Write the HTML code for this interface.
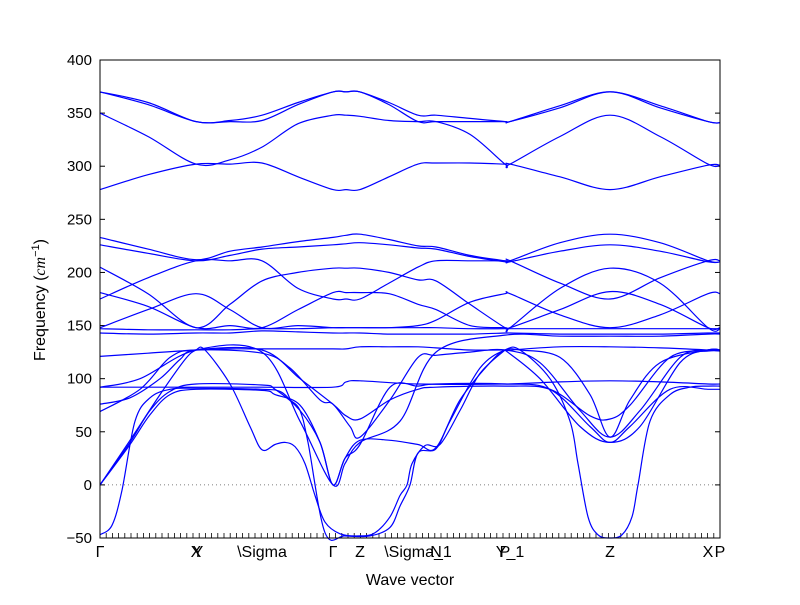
<!DOCTYPE html>
<html><head><meta charset="utf-8">
<style>
html,body{margin:0;padding:0;background:#fff;}
svg text{font-family:"Liberation Sans","DejaVu Sans",sans-serif;}
</style></head>
<body>
<svg id="chart" width="800" height="600" viewBox="0 0 800 600" xmlns="http://www.w3.org/2000/svg">
<rect x="0" y="0" width="800" height="600" fill="#fff"/>
<g id="ticks"></g>
<g id="bands"></g>
<rect x="100" y="60" width="620" height="478" fill="none" stroke="#000" stroke-width="1"/>
<text x="410" y="585" font-size="16" text-anchor="middle">Wave vector</text>
<text transform="translate(45,300) rotate(-90)" font-size="16" text-anchor="middle">Frequency (<tspan font-style="italic" font-family="Liberation Serif">cm</tspan><tspan font-size="11" dy="-6">−1</tspan><tspan dy="6">)</tspan></text>
</svg>
<script>
const symLabels = ["Γ","X","Y","\\Sigma","Γ","Z","\\Sigma_1","N","P","Y_1","Z","X","P"];
const symK = [0,96,98,162,233,260,318,336,405,410,510,608,620];
const yTicks = [-50,0,50,100,150,200,250,300,350,400];
const kGrid = [0,48,96,98,130,162,198,233,246,260,289,318,336,370,405,410,460,510,560,608,620];
const gridBands = [
 [370,360,342,342,343,348,360,370,370,370,360,348,348,345,342,342,357,370,357,342,341],
 [370,358,342,342,342,343,358,370,370,370,358,342,342,342,342,342,355,370,355,342,341],
 [350,328,302,302,306,318,340,348,348,347,343,342,342,330,302,302,328,348,328,302,301],
 [278,292,302,302,302,303,290,278,278,278,290,302,303,303,302,302,290,278,290,301,301],
 [233,222,212,212,220,224,229,233,235,236,231,225,224,216,211,211,228,236,228,211,210],
 [226,218,211,211,216,222,224,226,227,228,226,223,222,215,210,210,220,226,220,210,210],
 [205,180,148,148,170,192,200,204,204,204,200,193,192,170,148,148,185,204,190,148,147],
 [175,195,211,211,211,211,185,175,175,175,190,205,211,211,211,211,190,175,195,211,211],
 [181,168,148,148,150,148,165,181,181,181,180,170,165,150,148,148,165,182,170,148,148],
 [148,165,180,180,165,148,150,148,148,148,148,150,155,172,180,180,160,148,160,180,180],
 [147,146,146,146,146,147,147,148,148,148,148,148,148,147,147,147,147,147,147,147,147],
 [143,142,143,143,143,145,144,143,143,143,142,142,142,142,143,143,142,142,142,143,143],
 [121,124,127,127,128,128,128,128,128,130,130,130,129,127,127,127,130,130,129,127,126]
];
const lowA1 = [[0,0],[30,42],[60,85],[85,118],[96,127],[105,127],[130,95],[150,55],[162,33],[175,38],[185,40],[195,36],[205,20],[215,-10],[225,-35],[240,-46],[260,-48],[275,-45],[290,-30],[300,-10],[307,0],[312,20],[325,37],[340,38],[360,70],[380,105],[405,127]];
const lowA4 = [[0,-47],[12,-38],[22,-5],[25,20],[35,60],[50,82],[70,90],[96,91],[162,90],[180,88],[190,80],[200,70],[208,40],[212,0],[216,-30],[225,-45],[245,-48],[270,-48],[290,-40],[300,-20],[310,0],[318,30],[336,34],[350,60],[380,110],[405,127],[420,127],[450,100],[470,60],[478,20],[482,0],[488,-30],[498,-47],[510,-50],[522,-47],[532,-30],[538,0],[542,20],[550,60],[570,85],[590,92],[608,93],[620,93]];
const lowA2 = [[0,0],[30,40],[50,70],[70,88],[96,95],[162,94],[175,90],[200,70],[220,40],[233,0],[245,25],[260,42],[290,42],[318,38],[336,35],[360,80],[390,115],[405,127],[420,127],[460,120],[490,85],[510,45],[530,80],[560,115],[608,127],[620,127]];
const lowA3 = [[0,0],[30,38],[50,66],[70,85],[96,90],[162,89],[175,85],[200,75],[220,40],[233,0],[245,25],[260,38],[290,92],[318,93],[336,95],[405,95],[450,90],[490,55],[510,40],[530,55],[570,90],[608,90],[620,90]];
const lowO1 = [[0,92],[96,92],[162,92],[233,92],[246,97],[260,98],[318,95],[405,95],[460,97],[510,98],[560,97],[608,95],[620,95]];
const lowO2 = [[0,76],[30,82],[60,100],[80,118],[96,127],[162,127],[200,100],[233,76],[246,65],[260,62],[290,80],[318,90],[336,92],[405,93],[450,90],[490,65],[510,62],[530,75],[570,120],[608,126],[620,126]];
const lowO3 = [[0,69],[40,90],[70,120],[96,127],[162,124],[190,110],[220,80],[233,76],[250,55],[260,45],[290,80],[318,120],[336,122],[370,125],[405,127],[440,115],[480,70],[510,45],[540,70],[580,120],[608,127],[620,127]];
const lowO4 = [[0,92],[40,100],[96,127],[162,125],[200,60],[233,0],[245,20],[260,40],[300,60],[336,125],[405,141],[460,140],[510,140],[560,140],[608,142],[620,142]];
const lowO5 = [[405,127],[440,100],[480,55],[510,40],[540,55],[580,115],[608,127],[620,127]];
const lowBands = [lowA1,lowA4,lowA2,lowA3,lowO1,lowO2,lowO3,lowO4,lowO5];

const X0=100, X1=720, Y0=538, Y1=60, KMAX=620, FMIN=-50, FMAX=400;
const xs = k => X0 + (k/KMAX)*(X1-X0);
const ys = f => Y0 - (f-FMIN)/(FMAX-FMIN)*(Y0-Y1);
const NS="http://www.w3.org/2000/svg";
const bandG=document.getElementById('bands'), tickG=document.getElementById('ticks');

function smoothPath(ptsIn){
  const pts=ptsIn.filter((q,i)=>i===0||q[0]-ptsIn[i-1][0]>=5);
  const p=pts.map(([k,f])=>[xs(k),ys(f)]);
  let d=`M${p[0][0].toFixed(1)},${p[0][1].toFixed(1)}`;
  for(let i=0;i<p.length-1;i++){
    const p0=p[Math.max(0,i-1)],p1=p[i],p2=p[i+1],p3=p[Math.min(p.length-1,i+2)];
    const c1x=p1[0]+(p2[0]-p0[0])/6,c1y=p1[1]+(p2[1]-p0[1])/6;
    const c2x=p2[0]-(p3[0]-p1[0])/6,c2y=p2[1]-(p3[1]-p1[1])/6;
    d+=` C${c1x.toFixed(1)},${c1y.toFixed(1)} ${c2x.toFixed(1)},${c2y.toFixed(1)} ${p2[0].toFixed(1)},${p2[1].toFixed(1)}`;
  }
  return d;
}
function addBand(pts,i){
  const el=document.createElementNS(NS,'path');
  el.setAttribute('d',smoothPath(pts));
  el.setAttribute('fill','none');el.setAttribute('stroke','#0000ff');el.setAttribute('stroke-width','1.2');
  
  
  bandG.appendChild(el);
}
let bi=0;
gridBands.forEach(b=>addBand(kGrid.map((k,j)=>[k,b[j]]),bi++));
lowBands.forEach(b=>addBand(b,bi++));

const z=document.createElementNS(NS,'line');
z.setAttribute('x1',X0);z.setAttribute('x2',X1);z.setAttribute('y1',ys(0));z.setAttribute('y2',ys(0));
z.setAttribute('stroke','#555');z.setAttribute('stroke-dasharray','1,3');z.setAttribute('stroke-width','0.8');


tickG.appendChild(z);

yTicks.forEach(v=>{
  const y=ys(v);
  [[X0,X0+5],[X1,X1-5]].forEach(([a,b])=>{
    const l=document.createElementNS(NS,'line');
    l.setAttribute('x1',a);l.setAttribute('x2',b);l.setAttribute('y1',y);l.setAttribute('y2',y);l.setAttribute('stroke','#000');
    
    
    tickG.appendChild(l);
  });
  const t=document.createElementNS(NS,'text');
  t.setAttribute('x',X0-8);t.setAttribute('y',y+5);t.setAttribute('font-size','15');t.setAttribute('text-anchor','end');
  t.textContent=v<0?'\u2212'+Math.abs(v):String(v);
  
  
  tickG.appendChild(t);
});
for(let k=0;k<=KMAX;k+=6.2){
  const l=document.createElementNS(NS,'line');
  l.setAttribute('x1',xs(k));l.setAttribute('x2',xs(k));l.setAttribute('y1',Y0);l.setAttribute('y2',Y0-5);l.setAttribute('stroke','#000');l.setAttribute('stroke-width','0.8');
  
  
  tickG.appendChild(l);
}
symK.forEach((k,i)=>{
  const t=document.createElementNS(NS,'text');
  t.setAttribute('x',xs(k));t.setAttribute('y',Y0+19);t.setAttribute('font-size','16');t.setAttribute('text-anchor','middle');
  if(symLabels[i]==='Γ') t.setAttribute('font-family','Liberation Serif');
  t.textContent=symLabels[i];
  
  
  tickG.appendChild(t);
});
</script>
</body></html>
